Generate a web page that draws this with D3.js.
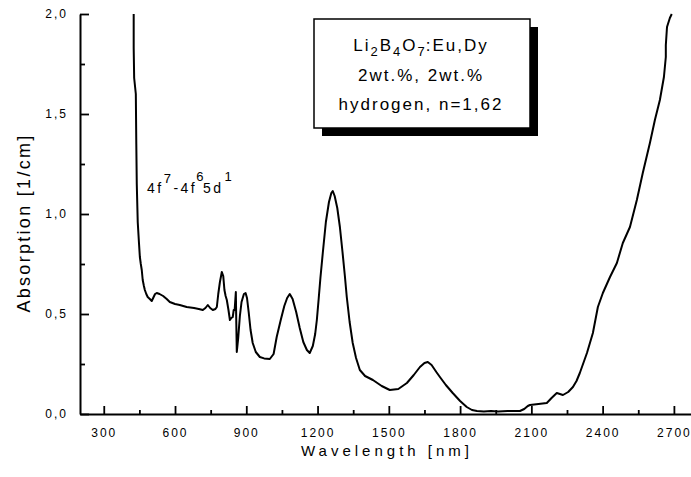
<!DOCTYPE html>
<html>
<head>
<meta charset="utf-8">
<script src="https://cdn.jsdelivr.net/npm/d3@7"></script>
<style>
  html, body { margin: 0; padding: 0; background: #fff; }
  svg { display: block; font-family: "Liberation Sans", Arial, Helvetica, sans-serif; }
</style>
</head>
<body>
<svg id="chart" width="691" height="477"></svg>
<script>
// ---- data ----
const wavelength = [
  426, 426, 428, 435, 437, 439, 443, 448, 452, 456, 460, 464, 469, 473, 479, 485, 494, 502, 510, 516,
  523, 535, 550, 565, 578, 600, 620, 649, 680, 700, 717, 728, 738, 748, 759, 770, 776, 782, 789, 797,
  803, 808, 813, 818, 825, 831, 837, 843, 847, 851, 856, 858, 860, 866, 873, 880, 890, 897, 903, 910,
  918, 927, 940, 957, 975, 999, 1015, 1028, 1045, 1060, 1072, 1083, 1095, 1110, 1125, 1140, 1155, 1167, 1180, 1190,
  1197, 1205, 1212, 1222, 1235, 1248, 1258, 1264, 1272, 1283, 1294, 1305, 1315, 1323, 1335, 1348, 1362, 1378, 1400, 1433,
  1470, 1504, 1540, 1576, 1605, 1631, 1650, 1664, 1680, 1700, 1715, 1740, 1769, 1800, 1828, 1850, 1871, 1900, 1930, 1960,
  2000, 2030, 2052, 2070, 2085, 2094, 2130, 2165, 2185, 2207, 2220, 2233, 2255, 2275, 2290, 2304, 2334, 2359, 2380, 2401,
  2431, 2460, 2485, 2515, 2544, 2569, 2599, 2620, 2641, 2658, 2666, 2666, 2671, 2683, 2691
];
const absorption = [
  2.00, 1.83, 1.68, 1.60, 1.35, 1.15, 0.96, 0.86, 0.785, 0.75, 0.72, 0.67, 0.64, 0.62, 0.60, 0.585, 0.575, 0.565, 0.585, 0.60,
  0.605, 0.60, 0.59, 0.575, 0.56, 0.55, 0.545, 0.535, 0.53, 0.525, 0.52, 0.53, 0.545, 0.53, 0.52, 0.525, 0.535, 0.60, 0.66, 0.71,
  0.69, 0.62, 0.59, 0.57, 0.52, 0.47, 0.48, 0.485, 0.52, 0.52, 0.61, 0.45, 0.31, 0.38, 0.49, 0.56, 0.60, 0.605, 0.58, 0.51,
  0.42, 0.355, 0.31, 0.285, 0.278, 0.275, 0.30, 0.385, 0.47, 0.54, 0.58, 0.60, 0.575, 0.51, 0.43, 0.36, 0.32, 0.305, 0.34, 0.40,
  0.47, 0.58, 0.68, 0.805, 0.96, 1.06, 1.105, 1.115, 1.09, 1.03, 0.935, 0.81, 0.69, 0.585, 0.46, 0.355, 0.28, 0.22, 0.19, 0.17,
  0.14, 0.12, 0.125, 0.155, 0.195, 0.235, 0.255, 0.26, 0.245, 0.21, 0.185, 0.145, 0.105, 0.065, 0.035, 0.02, 0.015, 0.012, 0.015, 0.012,
  0.015, 0.015, 0.015, 0.025, 0.04, 0.045, 0.05, 0.055, 0.08, 0.105, 0.10, 0.095, 0.11, 0.135, 0.165, 0.205, 0.305, 0.405, 0.535, 0.605,
  0.685, 0.755, 0.855, 0.935, 1.07, 1.205, 1.355, 1.47, 1.57, 1.685, 1.785, 1.845, 1.935, 1.98, 2.00
];
const xTickValues = [300, 600, 900, 1200, 1500, 1800, 2100, 2400, 2700];
const xTickLabels = ["300", "600", "900", "1200", "1500", "1800", "2100", "2400", "2700"];
const xMinorValues = [450, 750, 1050, 1350, 1650, 1950, 2250, 2550];
const yTickValues = [0, 0.5, 1.0, 1.5, 2.0];
const yTickLabels = ["0,0", "0,5", "1,0", "1,5", "2,0"];
const yMinorValues = [0.25, 0.75, 1.25, 1.75];
const xTitle = "Wavelength [nm]";
const yTitle = "Absorption [1/cm]";
const legendLines = ["2wt.%, 2wt.%", "hydrogen, n=1,62"];

// ---- drawing ----
const svg = d3.select("#chart");
const x = d3.scaleLinear().domain([200, 2772]).range([80, 691]);
const y = d3.scaleLinear().domain([0, 2]).range([414, 14]);

const points = wavelength.map((w, i) => [w, absorption[i]]);
const line = d3.line().x(d => x(d[0])).y(d => y(d[1]));

svg.append("path")
  .datum(points)
  .attr("d", line)
  .attr("fill", "none")
  .attr("stroke", "#000")
  .attr("stroke-width", 2)
  .attr("stroke-linejoin", "round");

// x axis
const gx = svg.append("g").attr("transform", `translate(0,${y(0)})`);
gx.call(d3.axisBottom(x).tickValues(xTickValues)
  .tickFormat((d, i) => xTickLabels[i]).tickSizeInner(-8).tickSizeOuter(0).tickPadding(14));
const gxm = svg.append("g").attr("transform", `translate(0,${y(0)})`);
gxm.call(d3.axisBottom(x).tickValues(xMinorValues).tickFormat("").tickSizeInner(-4).tickSizeOuter(0));
gxm.select(".domain").remove();

// y axis
const gy = svg.append("g").attr("transform", `translate(${x(200)},0)`);
gy.call(d3.axisLeft(y).tickValues(yTickValues)
  .tickFormat((d, i) => yTickLabels[i]).tickSizeInner(-9).tickSizeOuter(0).tickPadding(12));
const gym = svg.append("g").attr("transform", `translate(${x(200)},0)`);
gym.call(d3.axisLeft(y).tickValues(yMinorValues).tickFormat("").tickSizeInner(-5).tickSizeOuter(0));
gym.select(".domain").remove();

svg.selectAll(".domain").attr("stroke", "#000").attr("stroke-width", 2);
svg.selectAll(".tick line").attr("stroke", "#000").attr("stroke-width", 1.8);
svg.selectAll(".tick text")
  .attr("font-family", "Liberation Sans, Arial, sans-serif")
  .attr("font-size", 12)
  .attr("letter-spacing", "2px")
  .attr("fill", "#000");

// axis titles
svg.append("text")
  .attr("x", 387).attr("y", 456)
  .attr("text-anchor", "middle")
  .attr("font-size", 15)
  .attr("letter-spacing", "4px")
  .text(xTitle);

svg.append("text")
  .attr("transform", `translate(30,223) rotate(-90)`)
  .attr("text-anchor", "middle")
  .attr("font-size", 18)
  .attr("letter-spacing", "2.3px")
  .text(yTitle);

// annotation
const ann = svg.append("text")
  .attr("x", 147).attr("y", 193)
  .attr("font-size", 14)
  .attr("letter-spacing", "2.5px");
ann.append("tspan").text("4f");
ann.append("tspan").attr("dy", -10).attr("font-size", 13).text("7");
ann.append("tspan").attr("dy", 10).text("-4f");
ann.append("tspan").attr("dy", -12).attr("font-size", 13).attr("dx", -1).text("6");
ann.append("tspan").attr("dy", 12).attr("dx", -3).text("5d");
ann.append("tspan").attr("dy", -12).attr("font-size", 13).attr("dx", 1).text("1");

// legend box
const bx = 314, by = 19, bw = 216, bh = 109;
svg.append("rect").attr("x", bx + 8).attr("y", by + 8).attr("width", bw).attr("height", bh).attr("fill", "#000");
svg.append("rect").attr("x", bx).attr("y", by).attr("width", bw).attr("height", bh)
  .attr("fill", "#fff").attr("stroke", "#000").attr("stroke-width", 1.5);

const lt = svg.append("text")
  .attr("x", 421).attr("y", 51)
  .attr("text-anchor", "middle")
  .attr("font-size", 17)
  .attr("letter-spacing", "2px");
lt.append("tspan").text("Li");
lt.append("tspan").attr("dy", 5).attr("font-size", 13).text("2");
lt.append("tspan").attr("dy", -5).text("B");
lt.append("tspan").attr("dy", 5).attr("font-size", 13).text("4");
lt.append("tspan").attr("dy", -5).text("O");
lt.append("tspan").attr("dy", 5).attr("font-size", 13).text("7");
lt.append("tspan").attr("dy", -5).attr("dx", -1).text(":Eu,Dy");

legendLines.forEach((t, i) => {
  svg.append("text")
    .attr("x", 421).attr("y", 81 + i * 29)
    .attr("text-anchor", "middle")
    .attr("font-size", 17)
    .attr("letter-spacing", "2px")
    .text(t);
});
</script>
</body>
</html>
